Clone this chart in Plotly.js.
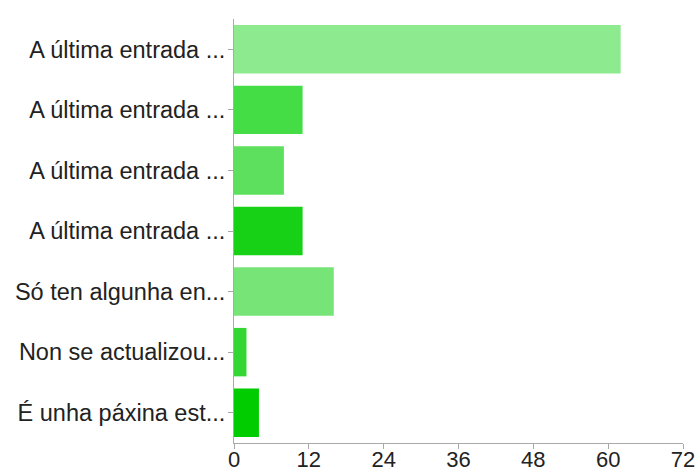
<!DOCTYPE html>
<html>
<head>
<meta charset="utf-8">
<script src="https://cdn.plot.ly/plotly-3.0.1.min.js"></script>
<style>html,body{margin:0;padding:0;background:#fff;}#chart{width:698px;height:475px;}</style>
</head>
<body>
<div id="chart"></div>
<script>
const categories = [
  "A última entrada ...",
  "A última entrada ...",
  "A última entrada ...",
  "A última entrada ...",
  "Só ten algunha en...",
  "Non se actualizou...",
  "É unha páxina est..."
];
const values = [62, 11, 8, 11, 16, 2, 4];
const barColors = ["#8eea8e", "#45dd45", "#5de05d", "#17d117", "#77e477", "#33d633", "#00cc00"];
const xTicks = [0, 12, 24, 36, 48, 60, 72];

const positions = categories.map((_, i) => i);

const trace = {
  type: "bar",
  orientation: "h",
  x: values,
  y: positions,
  marker: { color: barColors, line: { width: 0 } },
  hoverinfo: "x+text",
  text: categories,
  textposition: "none"
};

const layout = {
  width: 698,
  height: 475,
  margin: { l: 234, r: 15, t: 19, b: 32 },
  paper_bgcolor: "#ffffff",
  plot_bgcolor: "#ffffff",
  showlegend: false,
  bargap: 0.2,
  font: { family: "Liberation Sans, Arial, sans-serif", size: 23, color: "#222222" },
  xaxis: {
    range: [0, 72],
    tickvals: xTicks,
    ticktext: xTicks.map(String),
    showgrid: false,
    zeroline: false,
    showline: true,
    linecolor: "#aaaaaa",
    linewidth: 1,
    ticks: "outside",
    ticklen: 5,
    tickcolor: "#aaaaaa",
    ticklabelstandoff: -8,
    tickfont: { size: 22, color: "#222222" }
  },
  yaxis: {
    range: [6.5, -0.5],
    tickvals: positions,
    ticktext: categories,
    showgrid: false,
    zeroline: false,
    showline: true,
    linecolor: "#aaaaaa",
    linewidth: 1,
    ticks: "outside",
    ticklen: 5,
    tickcolor: "#aaaaaa",
    ticklabelstandoff: -2,
    tickfont: { size: 23.5, color: "#222222" }
  }
};

Plotly.newPlot("chart", [trace], layout, { displayModeBar: false, staticPlot: true });
</script>
</body>
</html>
